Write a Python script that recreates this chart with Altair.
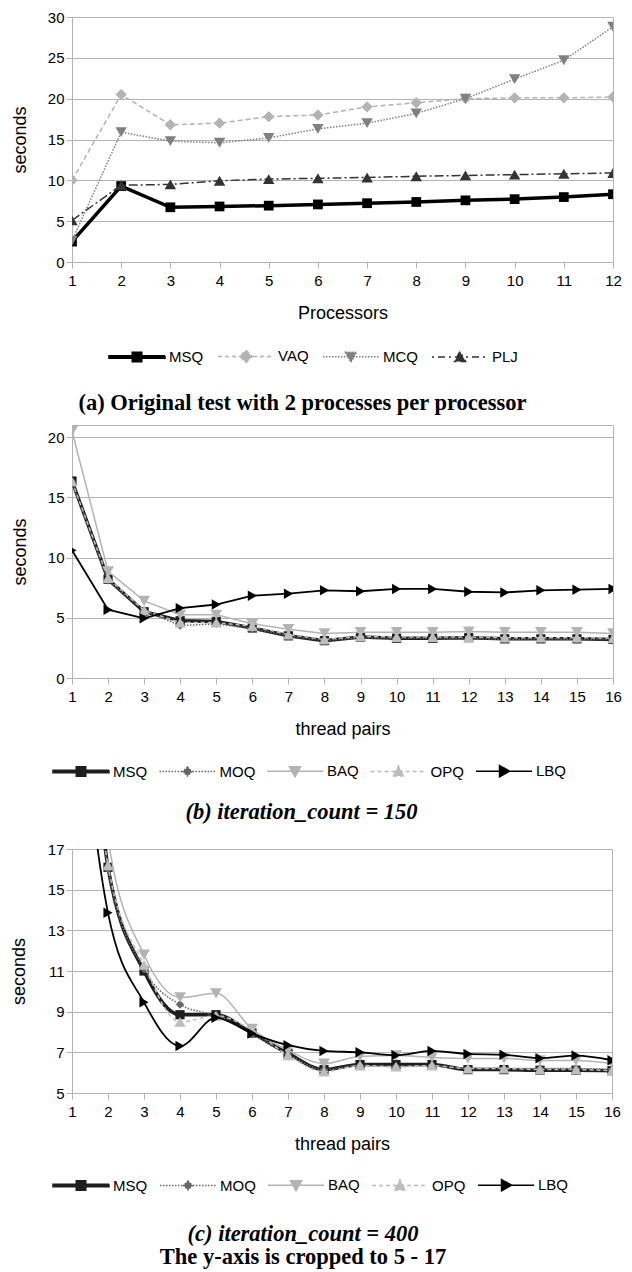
import altair as alt
import pandas as pd

# ---------------- data ----------------
# Panel (a): original test, 2 processes per processor
procs = list(range(1, 13))
a_names = ["MSQ", "VAQ", "MCQ", "PLJ"]
a_msq = [2.5, 9.3, 6.7, 6.8, 6.9, 7.05, 7.2, 7.35, 7.55, 7.7, 7.95, 8.3]
a_vaq = [10.0, 20.5, 16.8, 17.0, 17.8, 18.0, 19.0, 19.5, 20.0, 20.1, 20.1, 20.2]
a_mcq = [2.6, 15.9, 14.8, 14.6, 15.2, 16.3, 17.0, 18.2, 20.0, 22.4, 24.7, 28.8]
a_plj = [5.1, 9.4, 9.5, 9.95, 10.15, 10.25, 10.35, 10.5, 10.6, 10.7, 10.8, 10.9]

# Panel (b): iteration_count = 150
pairs = list(range(1, 17))
bc_names = ["MSQ", "MOQ", "BAQ", "OPQ", "LBQ"]
b_msq = [16.35, 8.2, 5.5, 4.75, 4.7, 4.15, 3.5, 3.1, 3.4, 3.3, 3.3, 3.35, 3.25, 3.25, 3.25, 3.2]
b_moq = [16.3, 8.1, 5.6, 4.35, 4.5, 4.1, 3.5, 3.1, 3.35, 3.3, 3.3, 3.3, 3.2, 3.25, 3.2, 3.2]
b_baq = [20.5, 8.85, 6.4, 5.25, 5.25, 4.5, 4.05, 3.7, 3.8, 3.8, 3.8, 3.85, 3.8, 3.8, 3.8, 3.7]
b_opq = [16.3, 8.3, 5.6, 4.6, 4.6, 4.3, 3.6, 3.2, 3.45, 3.4, 3.4, 3.4, 3.35, 3.35, 3.35, 3.3]
b_lbq = [10.6, 5.67, 4.95, 5.8, 6.1, 6.83, 7.0, 7.28, 7.2, 7.39, 7.39, 7.16, 7.1, 7.28, 7.33, 7.39]

# Panel (c): iteration_count = 400 (y cropped to 5-17)
c_msq = [43.0, 16.1, 11.0, 8.85, 8.85, 7.95, 6.95, 6.15, 6.4, 6.4, 6.4, 6.15, 6.15, 6.12, 6.12, 6.1]
c_moq = [43.0, 16.0, 11.1, 9.35, 8.8, 7.9, 6.9, 6.15, 6.35, 6.3, 6.35, 6.2, 6.2, 6.2, 6.2, 6.15]
c_baq = [54.0, 17.5, 11.8, 9.7, 9.9, 8.15, 7.1, 6.45, 6.8, 6.85, 6.75, 6.7, 6.7, 6.6, 6.6, 6.45]
c_opq = [43.0, 16.2, 11.3, 8.5, 8.8, 8.1, 6.85, 6.05, 6.35, 6.3, 6.35, 6.2, 6.2, 6.15, 6.15, 6.1]
c_lbq = [28.0, 13.86, 9.46, 7.31, 8.7, 7.93, 7.35, 7.07, 7.0, 6.86, 7.07, 6.92, 6.88, 6.71, 6.84, 6.61]

a_ticks = [0, 5, 10, 15, 20, 25, 30]
b_ticks = [0, 5, 10, 15, 20]
c_ticks = [5, 7, 9, 11, 13, 15, 17]


def long_df(xs, names, series):
    rows = []
    for n, vals in zip(names, series):
        for x, v in zip(xs, vals):
            rows.append({"x": x, "y": v, "series": n})
    return pd.DataFrame(rows)


df_a = long_df(procs, a_names, [a_msq, a_vaq, a_mcq, a_plj])
df_b = long_df(pairs, bc_names, [b_msq, b_moq, b_baq, b_opq, b_lbq])
df_c = long_df(pairs, bc_names, [c_msq, c_moq, c_baq, c_opq, c_lbq])

# ---------------- styles ----------------
LINE = "M-1,0H1"
THICK = "M-1,-0.045H1V0.045H-1Z"
P_SQ = "M-0.17,-0.17H0.17V0.17H-0.17Z"
P_DI = "M0,-0.22L0.22,0L0,0.22L-0.22,0Z"
P_DI_S = "M0,-0.16L0.16,0L0,0.16L-0.16,0Z"
P_TD = "M-0.2,-0.16L0.2,-0.16L0,0.2Z"
P_TU = "M-0.2,0.16L0.2,0.16L0,-0.2Z"
P_TR = "M-0.16,-0.2L0.2,0L-0.16,0.2Z"

STY_A = {
    "MSQ": dict(color="#000000", width=3.5, dash=None, shape="square", size=95, lpath=THICK + P_SQ, ldash=[1, 0]),
    "VAQ": dict(color="#b3b3b3", width=1.5, dash=[5, 3], shape="diamond", size=130, lpath=LINE + P_DI, ldash=[4, 3]),
    "MCQ": dict(color="#808080", width=1.5, dash=[1.5, 1.5], shape="triangle-down", size=130, lpath=LINE + P_TD, ldash=[1.5, 1.5]),
    "PLJ": dict(color="#333333", width=1.5, dash=[9, 3, 2, 3], shape="triangle-up", size=130, lpath=LINE + P_TU, ldash=[2, 4, 7, 4]),
}
STY_BC = {
    "MSQ": dict(color="#1e1e1e", width=3.5, dash=None, shape="square", size=85, lpath=THICK + P_SQ, ldash=[1, 0]),
    "MOQ": dict(color="#666666", width=1.5, dash=[1.5, 1.5], shape="diamond", size=70, lpath=LINE + P_DI_S, ldash=[1.5, 1.5]),
    "BAQ": dict(color="#b3b3b3", width=1.5, dash=None, shape="triangle-down", size=140, lpath=LINE + P_TD, ldash=[1, 0]),
    "OPQ": dict(color="#bdbdbd", width=1.5, dash=[4, 3], shape="triangle-up", size=130, lpath=LINE + P_TU, ldash=[4, 3]),
    "LBQ": dict(color="#000000", width=1.8, dash=None, shape="triangle-right", size=110, lpath=LINE + P_TR, ldash=[1, 0]),
}

SANS = "Liberation Sans"
SERIF = "Liberation Serif"


def make_panel(df, names, sty, xvals, ydom, yticks, xtitle, w, h, interp,
               ytitle_pad, legend_x, legend_y, col_pad, title):
    x = alt.X("x:Q", scale=alt.Scale(domain=[xvals[0], xvals[-1]], nice=False, zero=False),
              axis=alt.Axis(values=xvals, format="d", title=xtitle, grid=False, labelFlush=False,
                            labelOverlap=False, tickSize=6, labelPadding=5, titlePadding=16))
    y = alt.Y("y:Q", scale=alt.Scale(domain=ydom, nice=False, zero=False),
              axis=alt.Axis(values=yticks, title="seconds", grid=True, labelFlush=False,
                            labelOverlap=False, tickSize=6, labelPadding=2, titlePadding=ytitle_pad))
    base = alt.Chart(df)
    layers = []
    for n in names:
        s = sty[n]
        sub = base.transform_filter(alt.datum.series == n)
        lkw = dict(color=s["color"], strokeWidth=s["width"], clip=True, interpolate=interp)
        if s["dash"]:
            lkw["strokeDash"] = s["dash"]
        layers.append(sub.mark_line(**lkw).encode(x=x, y=y))
        layers.append(sub.mark_point(shape=s["shape"], size=s["size"], filled=True, color=s["color"],
                                     opacity=1, clip=True).encode(x=x, y=y))
    leg = alt.Legend(orient="none", legendX=legend_x, legendY=legend_y, direction="horizontal",
                     columns=len(names), symbolSize=3136, symbolStrokeWidth=1.5, symbolOpacity=1,
                     labelFont=SANS, labelFontSize=15, labelColor="#000000", labelOffset=3,
                     columnPadding=col_pad, labelLimit=200)
    colors = [sty[n]["color"] for n in names]
    legend_layer = base.transform_filter("false").mark_point(filled=True).encode(
        x=x, y=y,
        fill=alt.Fill("series:N", title=None, scale=alt.Scale(domain=names, range=colors), legend=leg),
        stroke=alt.Stroke("series:N", title=None, scale=alt.Scale(domain=names, range=colors), legend=leg),
        shape=alt.Shape("series:N", title=None,
                        scale=alt.Scale(domain=names, range=[sty[n]["lpath"] for n in names]), legend=leg),
        strokeDash=alt.StrokeDash("series:N", title=None,
                                  scale=alt.Scale(domain=names, range=[sty[n]["ldash"] for n in names]),
                                  legend=leg),
    )
    layers.append(legend_layer)
    return alt.layer(*layers).properties(width=w, height=h, title=title)


cap_common = dict(orient="bottom", anchor="middle", font=SERIF, fontSize=22.5, fontWeight="bold",
                  color="#000000")

title_a = alt.TitleParams(text="(a)  Original test with 2 processes per processor", offset=26, dx=-40,
                          **cap_common)
title_b = alt.TitleParams(text="(b)  iteration_count = 150", fontStyle="italic", offset=21, dx=-41,
                          subtitle=" ", subtitleFontSize=8, subtitlePadding=0, **cap_common)
title_c = alt.TitleParams(text="(c)  iteration_count = 400", fontStyle="italic", offset=29, dx=-39,
                          subtitle="The y-axis is cropped to 5 - 17", subtitleFont=SERIF,
                          subtitleFontSize=22.5, subtitleFontWeight="bold", subtitleColor="#000000",
                          subtitlePadding=0, **cap_common)

pa = make_panel(df_a, a_names, STY_A, procs, [0, 30], a_ticks, "Processors", 541, 245, "linear",
                18, 36, 245 + 93 - 28, 11, title_a)
pb = make_panel(df_b, bc_names, STY_BC, pairs, [0, 21], b_ticks, "thread pairs", 541, 253, "linear",
                18, -20, 253 + 92 - 28, 8.5, title_b)
pc = make_panel(df_c, bc_names, STY_BC, pairs, [5, 17], c_ticks, "thread pairs", 540, 244, "monotone",
                19, -20, 244 + 91 - 28, 9, title_c)

chart = alt.concat(pa, pb, pc, columns=1, spacing=9).resolve_scale(
    fill="independent", stroke="independent", shape="independent", strokeDash="independent"
).properties(
    padding={"left": 1, "top": 1, "right": 0, "bottom": 0}
).configure_view(
    stroke="#b3b3b3", strokeWidth=1
).configure_axis(
    labelFont=SANS, labelFontSize=15, labelColor="#000000",
    titleFont=SANS, titleFontSize=18, titleFontWeight="normal", titleColor="#000000",
    domainColor="#b3b3b3", tickColor="#b3b3b3", gridColor="#b3b3b3", gridWidth=1
)

chart.save("out.html", embed_options={"renderer": "svg", "actions": False})
